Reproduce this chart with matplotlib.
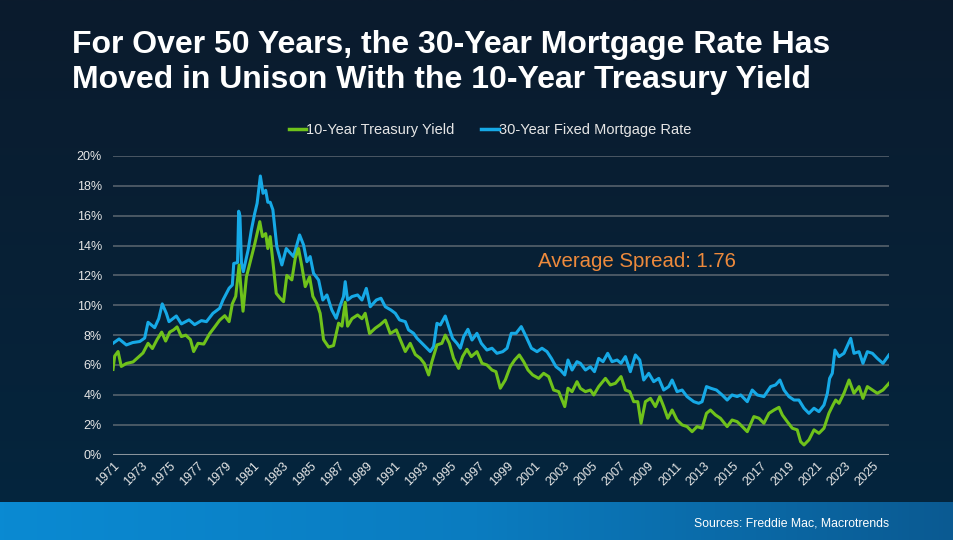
import numpy as np
import matplotlib
matplotlib.use("Agg")
import matplotlib.pyplot as plt
from matplotlib.colors import LinearSegmentedColormap
from matplotlib.lines import Line2D

# values (decimal year, percent)
treasury_t = [1971.0, 1971.12, 1971.36, 1971.59, 1971.95, 1972.42, 1972.78, 1973.13, 1973.49, 1973.8,
              1974.13, 1974.46, 1974.74, 1975.03, 1975.31, 1975.55, 1975.86, 1976.17, 1976.5, 1976.73,
              1977.04, 1977.45, 1977.87, 1978.23, 1978.58, 1978.94, 1979.25, 1979.48, 1979.72, 1979.96,
              1980.12, 1980.24, 1980.48, 1980.72, 1981.07, 1981.43, 1981.62, 1981.85, 1982.0, 1982.17,
              1982.35, 1982.6, 1982.88, 1983.12, 1983.35, 1983.71, 1983.95, 1984.18, 1984.42, 1984.66,
              1984.97, 1985.2, 1985.49, 1985.72, 1985.96, 1986.32, 1986.67, 1987.03, 1987.27, 1987.5,
              1987.67, 1987.98, 1988.38, 1988.69, 1988.92, 1989.23, 1989.63, 1989.99, 1990.35, 1990.7,
              1991.13, 1991.41, 1991.77, 1992.12, 1992.48, 1992.83, 1993.12, 1993.43, 1993.66, 1994.02,
              1994.37, 1994.61, 1994.9, 1995.2, 1995.56, 1995.84, 1996.15, 1996.46, 1996.86, 1997.22,
              1997.57, 1997.93, 1998.21, 1998.52, 1998.88, 1999.23, 1999.54, 1999.87, 2000.18, 2000.49,
              2000.82, 2001.25, 2001.6, 2001.96, 2002.31, 2002.67, 2003.1, 2003.33, 2003.62, 2003.97,
              2004.21, 2004.57, 2004.92, 2005.16, 2005.51, 2005.99, 2006.34, 2006.7, 2007.1, 2007.41,
              2007.72, 2008.0, 2008.29, 2008.52, 2008.83, 2009.19, 2009.54, 2009.85, 2010.13, 2010.42,
              2010.73, 2011.08, 2011.44, 2011.79, 2012.15, 2012.5, 2012.86, 2013.17, 2013.45, 2013.81,
              2014.16, 2014.64, 2014.99, 2015.35, 2015.6, 2016.07, 2016.54, 2016.9, 2017.25, 2017.61,
              2017.97, 2018.32, 2018.56, 2018.91, 2019.27, 2019.62, 2019.86, 2020.1, 2020.45, 2020.81,
              2021.16, 2021.52, 2021.87, 2022.16, 2022.35, 2022.59, 2022.94, 2023.3, 2023.65, 2024.01,
              2024.29, 2024.6, 2024.96, 2025.31, 2025.71, 2026.14]
treasury = [5.7, 6.6, 6.9, 5.9, 6.1, 6.2, 6.5, 6.8, 7.45, 7.1,
            7.7, 8.2, 7.6, 8.2, 8.35, 8.55, 7.9, 8.0, 7.7, 6.9,
            7.45, 7.4, 8.1, 8.55, 9.0, 9.3, 8.9, 10.1, 10.6, 12.7,
            10.8, 9.6, 11.9, 12.8, 14.1, 15.6, 14.6, 14.8, 13.8, 14.6,
            13.0, 10.8, 10.47, 10.24, 12.0, 11.7, 13.15, 13.8, 12.6, 11.25,
            11.9, 10.6, 10.1, 9.46, 7.7, 7.2, 7.3, 8.8, 8.6, 10.2,
            8.6, 9.1, 9.35, 9.1, 9.46, 8.1, 8.46, 8.7, 9.0, 8.1,
            8.35, 7.7, 6.9, 7.45, 6.7, 6.45, 6.1, 5.33, 6.22, 7.34,
            7.45, 8.0, 7.45, 6.44, 5.77, 6.56, 7.05, 6.56, 6.89, 6.11,
            6.0, 5.66, 5.55, 4.44, 5.0, 5.89, 6.33, 6.67, 6.22, 5.66,
            5.33, 5.1, 5.44, 5.22, 4.32, 4.21, 3.21, 4.44, 4.21, 4.88,
            4.43, 4.21, 4.32, 3.99, 4.55, 5.1, 4.66, 4.77, 5.22, 4.32,
            4.21, 3.54, 3.54, 2.09, 3.54, 3.76, 3.21, 3.88, 3.21, 2.43,
            2.98, 2.31, 1.98, 1.87, 1.53, 1.87, 1.76, 2.76, 2.98, 2.65,
            2.43, 1.87, 2.31, 2.2, 1.98, 1.53, 2.54, 2.43, 2.09, 2.76,
            2.98, 3.16, 2.65, 2.2, 1.76, 1.65, 0.86, 0.64, 0.98, 1.65,
            1.42, 1.76, 2.76, 3.32, 3.65, 3.43, 4.1, 4.99, 4.1, 4.55,
            3.76, 4.55, 4.32, 4.1, 4.32, 4.77]

mortgage_t = [1971.0, 1971.43, 1971.95, 1972.4, 1972.9, 1973.25, 1973.49, 1973.96, 1974.25, 1974.5,
              1974.79, 1974.98, 1975.5, 1975.86, 1976.4, 1976.8, 1977.28, 1977.64, 1978.1, 1978.58,
              1978.82, 1979.25, 1979.48, 1979.58, 1979.85, 1979.93, 1980.02, 1980.13, 1980.26, 1980.6,
              1980.83, 1981.07, 1981.24, 1981.47, 1981.66, 1981.85, 1982.0, 1982.17, 1982.36, 1982.64,
              1983.0, 1983.31, 1983.83, 1984.26, 1984.54, 1984.78, 1985.01, 1985.25, 1985.61, 1985.91,
              1986.2, 1986.55, 1986.86, 1987.15, 1987.38, 1987.5, 1987.67, 1987.98, 1988.38, 1988.69,
              1989.0, 1989.28, 1989.71, 1990.04, 1990.35, 1990.75, 1991.06, 1991.36, 1991.77, 1992.0,
              1992.36, 1992.6, 1993.07, 1993.54, 1993.78, 1994.02, 1994.26, 1994.61, 1994.85, 1995.13,
              1995.44, 1995.68, 1995.92, 1996.22, 1996.51, 1996.86, 1997.17, 1997.57, 1997.93, 1998.28,
              1998.69, 1999.0, 1999.3, 1999.64, 2000.01, 2000.35, 2000.73, 2001.13, 2001.48, 2001.84,
              2002.15, 2002.48, 2002.79, 2003.1, 2003.33, 2003.62, 2003.97, 2004.21, 2004.57, 2004.92,
              2005.21, 2005.51, 2005.82, 2006.15, 2006.46, 2006.82, 2007.1, 2007.41, 2007.76, 2008.12,
              2008.43, 2008.71, 2009.07, 2009.42, 2009.78, 2010.13, 2010.49, 2010.73, 2011.08, 2011.44,
              2011.79, 2012.27, 2012.62, 2012.86, 2013.17, 2013.5, 2013.88, 2014.28, 2014.64, 2014.99,
              2015.35, 2015.6, 2016.07, 2016.42, 2016.78, 2017.25, 2017.73, 2018.08, 2018.39, 2018.68,
              2019.03, 2019.39, 2019.74, 2020.1, 2020.45, 2020.81, 2021.16, 2021.52, 2021.76, 2021.92,
              2022.11, 2022.3, 2022.59, 2022.94, 2023.42, 2023.65, 2024.01, 2024.29, 2024.6, 2024.96,
              2025.31, 2025.71, 2026.14]
mortgage = [7.45, 7.74, 7.34, 7.5, 7.57, 7.8, 8.86, 8.5, 9.1, 10.09,
            9.46, 8.9, 9.28, 8.75, 9.02, 8.7, 8.97, 8.9, 9.46, 9.8,
            10.36, 11.14, 11.36, 12.8, 12.86, 16.3, 16.0, 12.8, 12.25, 13.7,
            15.04, 16.16, 16.83, 18.66, 17.5, 17.7, 16.9, 16.9, 16.4, 13.93,
            12.7, 13.8, 13.26, 14.71, 14.04, 12.92, 13.26, 12.14, 11.69, 10.35,
            10.69, 9.68, 9.13, 10.0, 10.58, 11.58, 10.35, 10.58, 10.69, 10.35,
            11.13, 9.9, 10.35, 10.47, 9.9, 9.68, 9.46, 9.02, 8.9, 8.35,
            8.12, 7.79, 7.34, 6.9, 7.23, 8.79, 8.68, 9.28, 8.57, 7.78,
            7.45, 7.12, 7.9, 8.39, 7.67, 8.12, 7.45, 7.0, 7.12, 6.78,
            6.89, 7.12, 8.12, 8.12, 8.57, 7.9, 7.12, 6.89, 7.12, 6.89,
            6.44, 5.88, 5.66, 5.33, 6.33, 5.66, 6.22, 6.11, 5.66, 5.88,
            5.55, 6.44, 6.22, 6.78, 6.22, 6.33, 6.11, 6.56, 5.55, 6.67,
            6.33, 4.99, 5.44, 4.88, 5.1, 4.32, 4.55, 4.99, 4.21, 4.32,
            3.88, 3.54, 3.43, 3.54, 4.55, 4.43, 4.32, 3.99, 3.65, 3.99,
            3.88, 3.99, 3.54, 4.32, 3.99, 3.88, 4.55, 4.66, 4.99, 4.32,
            3.88, 3.65, 3.65, 3.1, 2.76, 3.1, 2.87, 3.32, 4.1, 5.1,
            5.44, 7.0, 6.56, 6.78, 7.78, 6.78, 6.89, 6.11, 6.89, 6.78,
            6.44, 6.11, 6.67]

year_ticks = list(range(1971, 2026, 2))
pct_ticks = list(range(0, 21, 2))

BG_TOP = '#0b1b2d'
BG_BOT = '#04263f'
GREEN = '#6fc21b'
BLUE = '#16a9e6'
ORANGE = '#ee8a3c'
TXT = '#e6e6e6'
NARROW = ['Liberation Sans Narrow', 'Liberation Sans', 'DejaVu Sans']
plt.rcParams['font.family'] = ['Liberation Sans', 'DejaVu Sans']

fig = plt.figure(figsize=(9.54, 5.4), dpi=100)

# background + bottom band
bg = fig.add_axes([0, 0, 1, 1])
bg.axis('off')
bg.set_xlim(0, 1)
bg.set_ylim(0, 1)
vgrad = np.linspace(0, 1, 256).reshape(-1, 1)
bg.imshow(vgrad, extent=[0, 1, 0, 1], aspect='auto', origin='lower',
          cmap=LinearSegmentedColormap.from_list('v', [BG_BOT, BG_TOP]), zorder=0)
hgrad = np.linspace(0, 1, 256).reshape(1, -1)
band_h = 38 / 540
bg.imshow(hgrad, extent=[0, 1, 0, band_h], aspect='auto',
          cmap=LinearSegmentedColormap.from_list('h', ['#0a8ad2', '#0a7cc0', '#0b5a92']), zorder=1)

fig.text(72 / 954, 1 - 45 / 540, "For Over 50 Years, the 30-Year Mortgage Rate Has",
         color='white', fontsize=23, fontweight='bold', va='center', ha='left')
fig.text(72 / 954, 1 - 80 / 540, "Moved in Unison With the 10-Year Treasury Yield",
         color='white', fontsize=23, fontweight='bold', va='center', ha='left')
fig.text(889 / 954, 1 - 523 / 540, "Sources: Freddie Mac, Macrotrends",
         color='white', fontsize=8.8, family=NARROW, va='center', ha='right')

ax = fig.add_axes([113 / 954, 1 - 454.5 / 540, 776 / 954, 298.5 / 540])
ax.set_facecolor('none')
for s in ax.spines.values():
    s.set_visible(False)

for v in pct_ticks[1:]:
    ax.axhline(v, color='#5c6771', lw=1.1, zorder=1)
ax.axhline(0, color='#8a949c', lw=2.2, zorder=1)

ax.plot(mortgage_t, mortgage, color=BLUE, lw=2.2, zorder=3, solid_joinstyle='round')
ax.plot(treasury_t, treasury, color=GREEN, lw=2.2, zorder=4, solid_joinstyle='round')

ax.set_xlim(1971, 2026.14)
ax.set_ylim(0, 20)
ax.set_yticks(pct_ticks)
ax.set_yticklabels([f"{v}%" for v in pct_ticks])
ax.set_xticks(year_ticks)
ax.set_xticklabels([str(y) for y in year_ticks], rotation=45, ha='right', rotation_mode='anchor')
ax.tick_params(axis='y', length=0, pad=8, labelsize=9, labelcolor=TXT)
ax.tick_params(axis='x', length=0, pad=4, labelsize=9, labelcolor=TXT)

ax.text(2001.2, 12.9, "Average Spread: 1.76", color=ORANGE, fontsize=14.7,
        ha='left', va='center')

handles = [Line2D([], [], color=GREEN, lw=2.5), Line2D([], [], color=BLUE, lw=2.5)]
fig.legend(handles, ["10-Year Treasury Yield", "30-Year Fixed Mortgage Rate"],
           loc='center', bbox_to_anchor=(490 / 954, 1 - 130 / 540), ncol=2, frameon=False,
           handlelength=1.2, handletextpad=0.0, columnspacing=1.8,
           prop={'family': NARROW, 'size': 10.5}, labelcolor=TXT)

fig.savefig('out.png', dpi=100)
